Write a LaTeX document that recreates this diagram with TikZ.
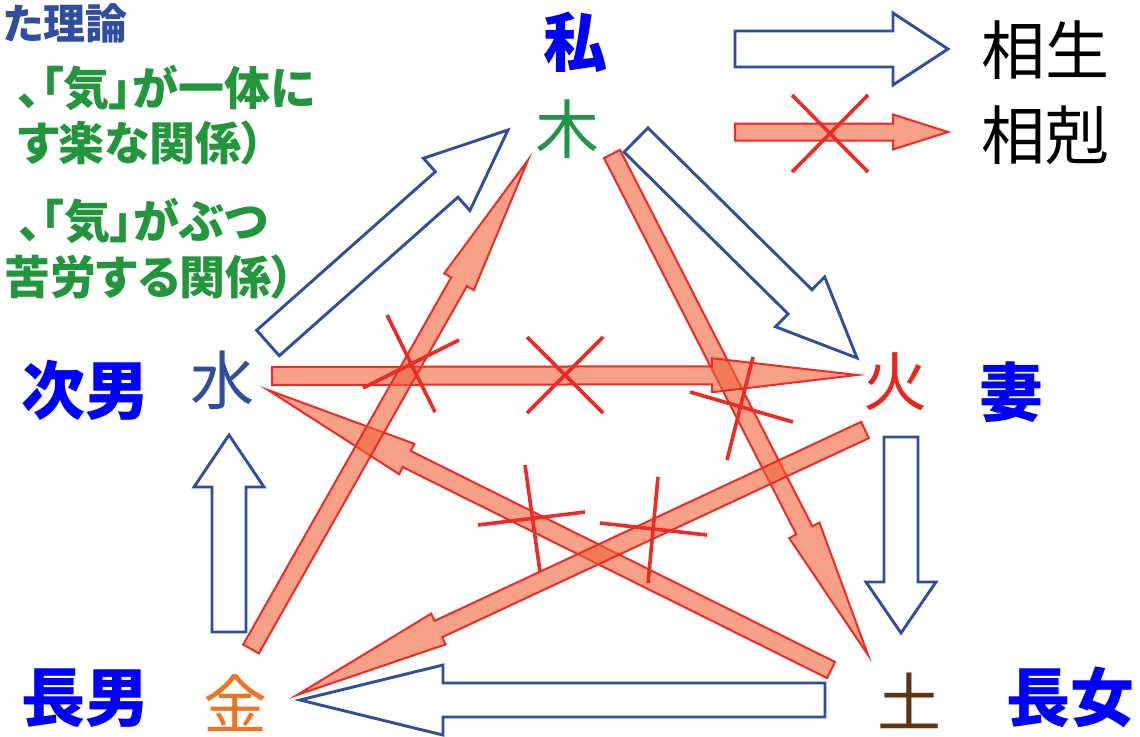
\documentclass[tikz,border=0pt]{standalone}
\usepackage{fontspec}
\usetikzlibrary{calc}
\newfontfamily\jpfont{Noto Sans CJK JP}
\newfontfamily\jpprop[RawFeature=+palt]{Noto Sans CJK JP}

\definecolor{labelblue}{HTML}{0000FF}
\definecolor{shengblue}{HTML}{2F4DA1}
\definecolor{notegreen}{HTML}{22963C}
\definecolor{woodgreen}{HTML}{21954A}
\definecolor{firered}{HTML}{E8261C}
\definecolor{metalorange}{HTML}{EC7424}
\definecolor{earthbrown}{HTML}{5E3414}
\definecolor{keline}{HTML}{EE2A24}
\definecolor{kefill}{HTML}{EE6137}

% block arrow: style, tail, tip, shaft half width, head half width, head length
\newcommand{\blockarrow}[6]{%
  \coordinate (hb) at ($(#3)!#6!(#2)$);
  \draw[#1] ($(#2)!#4!90:(#3)$) -- ($(hb)!#4!-90:(#2)$) -- ($(hb)!#5!-90:(#2)$)
    -- (#3) -- ($(hb)!#5!90:(#2)$) -- ($(hb)!#4!90:(#2)$)
    -- ($(#2)!#4!-90:(#3)$) -- cycle;
}

\tikzset{
  sheng/.style={draw=shengblue, line width=2.9pt, fill=white, line join=miter},
  ke/.style={draw=keline, line width=2pt, fill=kefill, fill opacity=0.6, line join=miter},
  cut/.style={draw=keline, line width=3.6pt},
  person/.style={font=\jpfont\bfseries\fontsize{64}{64}\selectfont, text=labelblue, inner sep=0pt},
  elem/.style={font=\jpfont\fontsize{64}{64}\selectfont, inner sep=0pt},
  note/.style={font=\jpprop\bfseries\fontsize{46}{46}\selectfont, text=notegreen, inner sep=0pt, anchor=east}
}

\begin{document}
\begin{tikzpicture}[x=1pt,y=-1pt]
    \useasboundingbox (0,0) rectangle (1140,736);

    % Notes
    \node[note, text=shengblue, font=\jpprop\bfseries\fontsize{42}{42}\selectfont] (title) at (128,23) {た理論};
    \node[note] (sheng1) at (315,88) {、「気」が一体に};
    \node[note] (sheng2) at (265,143) {す楽な関係）};
    \node[note] (ke1) at (268,221) {、「気」がぶつ};
    \node[note] (ke2) at (295,277) {苦労する関係）};

    % Elements and persons
    \node[person] (me) at (575,42) {私};
    \node[elem, text=woodgreen] (mu) at (567,129) {木};
    \node[elem, text=firered] (hi) at (895,382) {火};
    \node[person] (wife) at (1011,392) {妻};
    \node[elem, text=earthbrown] (tsuchi) at (909,701) {土};
    \node[person] (daughter) at (1070,697) {長女};
    \node[elem, text=metalorange] (kin) at (235,703) {金};
    \node[person] (son1) at (85,698) {長男};
    \node[elem, text=shengblue] (mizu) at (222,380) {水};
    \node[person] (son2) at (85,390) {次男};

    % Legend
    \node[elem] (lgsheng) at (1045,50) {相生};
    \node[elem] (lgke) at (1045,135) {相剋};
    \coordinate (lgs1) at (735,49);  \coordinate (lgs2) at (948,49);
    \coordinate (lgk1) at (735,132); \coordinate (lgk2) at (948,132);
    \blockarrow{sheng}{lgs1}{lgs2}{18pt}{36pt}{55pt}
    \blockarrow{ke}{lgk1}{lgk2}{8.5pt}{17.5pt}{55pt}

    % Sheng cycle (blue)
    \coordinate (sA1) at (268,343); \coordinate (sA2) at (508,130);
    \coordinate (sB1) at (636,140); \coordinate (sB2) at (857,358);
    \coordinate (sC1) at (901,437); \coordinate (sC2) at (901,633);
    \coordinate (sD1) at (825,700); \coordinate (sD2) at (300,700);
    \coordinate (sE1) at (229,632); \coordinate (sE2) at (229,435);
    \foreach \t/\h/\l in {sA1/sA2/82pt, sB1/sB2/80pt, sC1/sC2/51pt, sD1/sD2/143pt, sE1/sE2/52pt} {
      \blockarrow{sheng}{\t}{\h}{17pt}{35pt}{\l}
    }

    % Ke cycle (red)
    \coordinate (kA1) at (612,154); \coordinate (kA2) at (868,655);
    \coordinate (kB1) at (831,670); \coordinate (kB2) at (268,390);
    \coordinate (kC1) at (272,376); \coordinate (kC2) at (857,375);
    \coordinate (kD1) at (865,430); \coordinate (kD2) at (297,695);
    \coordinate (kE1) at (251,649); \coordinate (kE2) at (528,160);
    \foreach \t/\h/\l in {kA1/kA2/140pt, kB1/kB2/155pt, kC1/kC2/145pt, kD1/kD2/156pt, kE1/kE2/140pt} {
      \blockarrow{ke}{\t}{\h}{9pt}{17pt}{\l}
    }

    % Cross marks
    \foreach \xa/\ya/\xb/\yb in {792/95/868/172, 868/95/792/172,
        387/315/435/412, 363/388/459/340, 527/337/603/413, 603/337/527/413,
        690/392/793/422, 753/357/727/460, 525/465/540/572, 478/525/585/512,
        658/477/648/583, 600/523/707/535} {
      \draw[cut] (\xa,\ya) -- (\xb,\yb);
    }

\end{tikzpicture}
\end{document}
